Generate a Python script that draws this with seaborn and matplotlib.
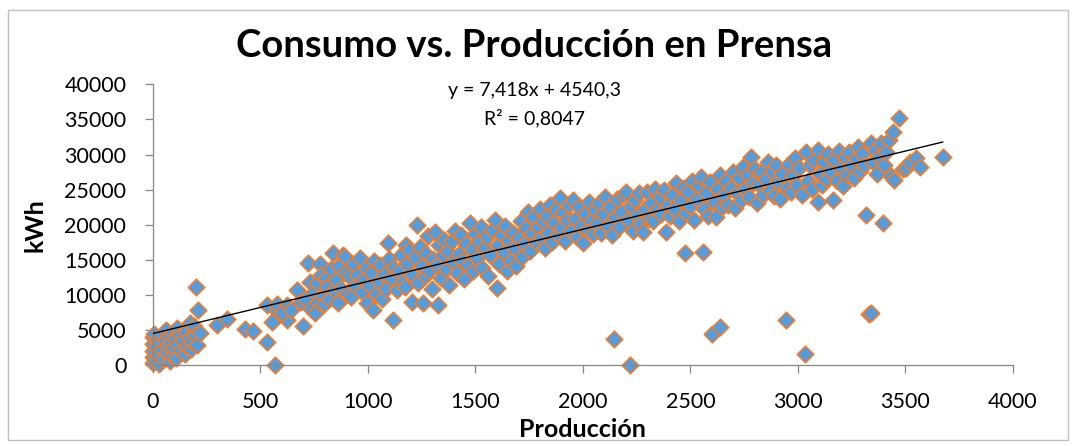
import numpy as np
import pandas as pd
import seaborn as sns
import matplotlib.pyplot as plt
from matplotlib.patches import Rectangle

# Production (units) and press consumption (kWh), grouped by production range
prod_a = [0, 0, 0, 0, 0, 5, 10, 15, 20, 25, 30, 35, 40, 45, 50, 55, 60, 65, 70, 75,
          80, 85, 90, 95, 100, 105, 110, 115, 120, 125, 130, 140, 150, 155, 160,
          170, 175, 180, 185, 190, 195, 201, 205, 212, 220]
kwh_a = [300, 1200, 2000, 3000, 4000, 4500, 800, 2600, 3800, 1500, 200, 3200, 4400,
         2200, 900, 3600, 5000, 1800, 2800, 4100, 600, 3300, 1400, 4700, 2500, 3900,
         1100, 5300, 3000, 4400, 2000, 3600, 1600, 4800, 2700, 3900, 6000, 2300, 3400,
         5600, 4300, 11200, 2900, 7890, 4600]

prod_b = [297, 344, 429, 467, 530, 568, 530, 576, 576, 576, 553, 623, 623, 669, 700,
          600, 645, 690]
kwh_b = [5760, 6610, 5150, 4950, 3380, 0, 8600, 6900, 7800, 8800, 6230, 6470, 8600,
         10740, 5620, 7400, 7900, 9000]

prod_c = [710, 723, 730, 738, 748, 755, 762, 770, 777, 783, 792, 798, 806, 812, 820,
          830, 839, 845, 853, 860, 868, 877, 886, 894, 893, 903, 912, 922, 932, 942,
          952, 963, 972, 982]
kwh_c = [9400, 14530, 11900, 8100, 10400, 7500, 11700, 9100, 14430, 12900, 9900, 8700,
         12400, 11100, 9500, 13700, 15950, 10700, 12100, 8900, 14100, 10900, 15710,
         15470, 13100, 10100, 12700, 9700, 14500, 11500, 12900, 15240, 10400, 12300]

prod_d = [990, 996, 1006, 1016, 1025, 1030, 1040, 1050, 1055, 1065, 1075, 1085, 1095,
          1100, 1110, 1118, 1124, 1134, 1144, 1153, 1163, 1173, 1180, 1184]
kwh_d = [13900, 8900, 11400, 13100, 7890, 14900, 10100, 11900, 14300, 9500, 12900,
         10900, 17380, 15100, 12500, 6470, 13900, 10700, 13500, 15700, 11900, 11100,
         17130, 14400]

prod_e = [1193, 1204, 1208, 1218, 1227, 1233, 1243, 1250, 1257, 1267, 1272, 1282, 1287,
          1297, 1302, 1312, 1320, 1327, 1331, 1341, 1349, 1356, 1366, 1375, 1380, 1390,
          1398, 1405, 1415, 1425, 1432, 1440, 1449, 1457, 1467, 1474]
kwh_e = [16500, 9070, 12900, 15300, 19980, 11700, 16900, 14100, 8840, 12700, 15900,
         18400, 13500, 10900, 15100, 19030, 14300, 8600, 17100, 12500, 15700, 17900,
         13700, 16300, 11500, 17700, 14700, 19100, 13100, 15900, 18500, 14900, 12300,
         17300, 14100, 20220]

prod_f = [1484, 1491, 1499, 1509, 1518, 1526, 1533, 1543, 1553, 1561, 1568, 1578, 1591,
          1599, 1605, 1612, 1622, 1632, 1639, 1647, 1657, 1666, 1674, 1681, 1691, 1701,
          1711, 1718, 1726, 1735, 1745, 1753, 1763, 1770]
kwh_f = [16500, 13500, 18700, 15300, 17500, 19700, 13900, 16700, 18300, 12700, 15700,
         19300, 20690, 10980, 17100, 14500, 18500, 16100, 19900, 13500, 17700, 14900,
         18900, 16700, 14100, 18100, 20500, 15500, 17300, 19500, 21870, 16300, 18700,
         21100]

prod_g = [1780, 1790, 1800, 1806, 1814, 1824, 1832, 1839, 1848, 1858, 1865, 1873, 1883,
          1893, 1900, 1909, 1918, 1928, 1937, 1944, 1954, 1962, 1972, 1982, 1992, 2001,
          2010, 2019, 2027, 2037, 2046, 2056, 2066]
kwh_g = [17500, 19700, 22300, 18100, 20500, 16700, 21300, 18900, 22900, 17500, 20300,
         22100, 18500, 23780, 19500, 21700, 17700, 20700, 22900, 19100, 23530, 20900,
         18300, 22500, 19900, 17380, 21500, 19300, 23300, 20500, 18700, 22100, 20100]

prod_h = [2075, 2085, 2095, 2105, 2115, 2125, 2134, 2144, 2149, 2159, 2169, 2179, 2189,
          2203, 2209, 2221, 2223, 2233, 2243, 2253, 2263, 2268, 2280, 2288, 2297, 2307,
          2317, 2327, 2337, 2347, 2357, 2364]
kwh_h = [23100, 18900, 21500, 23900, 19900, 22500, 18500, 3730, 21100, 23700, 19700,
         21900, 24300, 24710, 20700, 0, 22700, 19100, 23500, 21300, 24500, 20100, 19030,
         22300, 24700, 20900, 23100, 20500, 25100, 22100, 23900, 21500]

prod_i = [2376, 2388, 2396, 2406, 2416, 2425, 2435, 2445, 2455, 2465, 2474, 2480, 2490,
          2499, 2509, 2519, 2529, 2539, 2551, 2559, 2564, 2573, 2583, 2593, 2602, 2608,
          2621, 2628, 2636, 2639, 2647, 2657]
kwh_i = [24900, 19030, 22900, 21300, 24300, 22300, 25900, 20500, 23500, 25300, 15950,
         21700, 24700, 22700, 26300, 20700, 23700, 25500, 26850, 16180, 22300, 24500,
         21300, 26100, 4480, 23300, 21160, 25100, 27090, 5520, 22500, 24300]

prod_j = [2667, 2677, 2687, 2697, 2706, 2716, 2726, 2736, 2746, 2756, 2766, 2775, 2783,
          2790, 2800, 2810, 2820, 2830, 2840, 2850, 2861, 2869, 2879, 2889, 2899, 2909,
          2918, 2928, 2943, 2948]
kwh_j = [26300, 22900, 25300, 27500, 22350, 24500, 26700, 23500, 28300, 25100, 27100,
         23900, 29690, 25900, 27900, 23100, 25700, 27500, 24300, 26500, 28980, 24900,
         27700, 24100, 28500, 26100, 23700, 27300, 6470, 25300]

prod_k = [2958, 2968, 2978, 2988, 2997, 3007, 3017, 3033, 3037, 3047, 3057, 3066, 3076,
          3093, 3093, 3101, 3111, 3121, 3131, 3141, 3150, 3163, 3170, 3180, 3190, 3200,
          3209, 3219, 3229, 3239, 3249]
kwh_k = [28700, 24700, 26900, 29500, 25700, 28100, 24300, 1640, 30300, 26300, 28500,
         25100, 29300, 30640, 23290, 27300, 25700, 28900, 26500, 30100, 27700, 23530,
         29300, 26300, 30500, 28100, 25500, 29700, 27100, 30300, 28500]

prod_l = [3259, 3268, 3278, 3288, 3298, 3308, 3318, 3330, 3338, 3341, 3348, 3357, 3367,
          3377, 3387, 3395, 3401, 3411, 3426, 3431, 3441, 3449, 3469]
kwh_l = [26700, 29500, 31100, 27700, 30100, 28500, 21400, 7320, 7440, 31600, 28900,
         30700, 27300, 29700, 31700, 20220, 28500, 30300, 32070, 26900, 33250, 26380,
         35150]

prod_m = [3490, 3504, 3520, 3550, 3566, 3674]
kwh_m = [27900, 28040, 28900, 29460, 28270, 29690]

# Linear trendline reported by the fit
slope = 7.418
intercept = 4540.3
r_squared = 0.8047

x_ticks = [0, 500, 1000, 1500, 2000, 2500, 3000, 3500, 4000]
y_ticks = [0, 5000, 10000, 15000, 20000, 25000, 30000, 35000, 40000]

title = "Consumo vs. Producción en Prensa"
x_label = "Producción"
y_label = "kWh"

produccion = (prod_a + prod_b + prod_c + prod_d + prod_e + prod_f + prod_g + prod_h
              + prod_i + prod_j + prod_k + prod_l + prod_m)
consumo = (kwh_a + kwh_b + kwh_c + kwh_d + kwh_e + kwh_f + kwh_g + kwh_h
           + kwh_i + kwh_j + kwh_k + kwh_l + kwh_m)
df = pd.DataFrame({x_label: produccion, y_label: consumo})

sns.set_theme(style="white")
plt.rcParams["font.family"] = ["Lato", "DejaVu Sans"]

W, H = 1076, 446
fig = plt.figure(figsize=(W / 100, H / 100), dpi=100)
ax = fig.add_axes([0.1419, 0.1805, 0.7995, 0.6305])

sns.scatterplot(data=df, x=x_label, y=y_label, marker="D", s=72,
                color="#5B9BD5", edgecolor="#ED7D31", linewidth=1.1,
                clip_on=False, zorder=2, ax=ax)

x_ends = [min(produccion), max(produccion)]
trend = pd.DataFrame({"x": x_ends, "y": [slope * v + intercept for v in x_ends]})
sns.lineplot(data=trend, x="x", y="y", color="black", linewidth=1.0, zorder=3, ax=ax)

ax.set_xlim(0, 4000)
ax.set_ylim(0, 40000)
ax.set_xticks(x_ticks)
ax.set_yticks(y_ticks)
ax.set_xticklabels([str(v) for v in x_ticks])
ax.set_yticklabels([str(v) for v in y_ticks])

for side in ["top", "right"]:
    ax.spines[side].set_visible(False)
for side in ["left", "bottom"]:
    ax.spines[side].set_color("#868686")
    ax.spines[side].set_linewidth(0.9)

ax.tick_params(axis="both", which="major", direction="out", length=6, width=0.9,
               color="#868686", pad=13, labelsize=15.5, labelcolor="black",
               bottom=True, left=True)

ax.set_xlabel(x_label, fontsize=18, fontweight="bold", color="black")
ax.set_ylabel(y_label, fontsize=18, fontweight="bold", color="black")
ax.xaxis.label.set_va("center")
ax.yaxis.label.set_va("center")
ax.xaxis.set_label_coords(0.5, -0.229)
ax.yaxis.set_label_coords(-0.137, 0.5)

# Title and trendline label, centred on the chart area
fig.text(534 / W, 1 - 57 / H, title, ha="center", va="baseline",
         fontsize=27.5, fontweight="bold", color="black")

eq_text = f"y = {slope:.3f}x + {intercept:.1f}".replace(".", ",")
r2_text = f"R² = {r_squared:.4f}".replace(".", ",")
fig.text(534 / W, 1 - 96 / H, eq_text, ha="center", va="baseline",
         fontsize=14, color="black")
fig.text(534 / W, 1 - 124 / H, r2_text, ha="center", va="baseline",
         fontsize=14, color="black")

fig.patches.append(Rectangle((8 / W, 6 / H), 1060 / W, 430 / H,
                             transform=fig.transFigure, fill=False,
                             edgecolor="#BFBFBF", linewidth=1.0))

fig.savefig("out.png", dpi=100, facecolor="white")
